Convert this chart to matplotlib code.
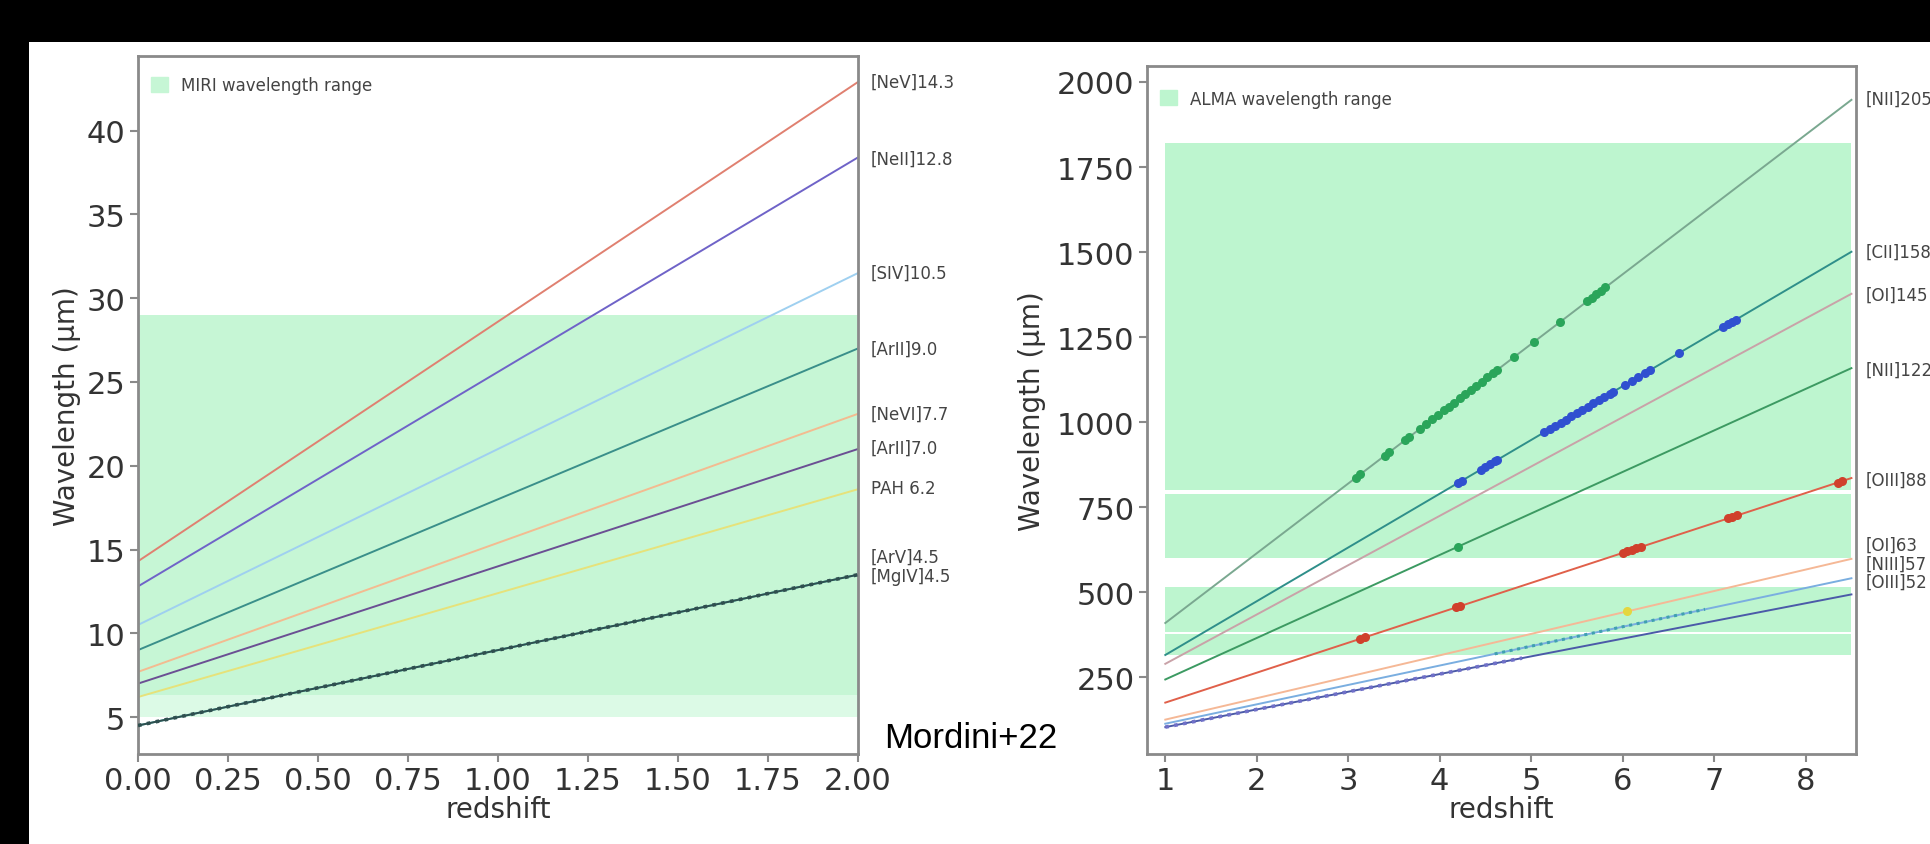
import matplotlib
matplotlib.use("Agg")
import matplotlib.pyplot as plt
from matplotlib.patches import Patch, Rectangle

# MIRI panel: rest wavelengths (um), labels, colours
miri_names = ["[NeV]14.3", "[NeII]12.8", "[SIV]10.5", "[ArII]9.0", "[NeVI]7.7",
              "[ArII]7.0", "PAH 6.2", "[ArV]4.5", "[MgIV]4.5"]
miri_rest = [14.3, 12.8, 10.5, 9.0, 7.7, 7.0, 6.2, 4.5, 4.5]
miri_colors = ["#e08070", "#6f63c8", "#9fd0f0", "#3a8f8a", "#f3bb90",
               "#6b4f93", "#e6e27a", "#45b8b0", "#2f4f4f"]
miri_label_y = [42.9, 38.3, 31.5, 27.0, 23.1, 21.1, 18.7, 14.6, 13.4]
miri_z = [0.0, 2.0]
miri_bands = [(5.0, 6.3, "#dcfae6"), (6.3, 29.0, "#c6f6d5")]

# ALMA panel
alma_names = ["[NII]205", "[CII]158", "[OI]145", "[NII]122", "[OIII]88",
              "[OI]63", "[NIII]57", "[OIII]52"]
alma_rest = [205, 158, 145, 122, 88, 63, 57, 52]
alma_colors = ["#7aa890", "#2f8f8a", "#c9a2a8", "#3c9a62", "#e0604a",
               "#f5b896", "#7aaee0", "#4b5aa8"]
alma_label_y = [1950, 1500, 1375, 1155, 830, 640, 585, 530]
alma_z = [1.0, 8.5]
alma_bands = [(1420, 1820), (1090, 1420), (800, 1090), (600, 788), (385, 515), (315, 377)]

# detections along the lines (redshifts)
green_z = [3.08, 3.13, 3.40, 3.45, 3.62, 3.66, 3.78, 3.85, 3.92, 3.98, 4.05, 4.10,
           4.16, 4.22, 4.28, 4.34, 4.40, 4.46, 4.52, 4.58, 4.63, 4.81, 5.03, 5.31,
           5.61, 5.66, 5.71, 5.76, 5.81]
blue_z = [4.20, 4.24, 4.45, 4.50, 4.55, 4.60, 4.63, 5.14, 5.20, 5.26, 5.32, 5.38,
          5.44, 5.50, 5.56, 5.62, 5.68, 5.74, 5.80, 5.86, 5.89, 6.03, 6.10, 6.17,
          6.24, 6.30, 6.61, 7.10, 7.15, 7.20, 7.24]
red_z = [3.13, 3.18, 4.18, 4.22, 6.00, 6.05, 6.10, 6.15, 6.20, 7.15, 7.20, 7.25, 8.35, 8.40]
nii122_z = [4.20]
oi63_z = [6.05]

W, H = 1931, 845
fig = plt.figure(figsize=(W / 100, H / 100), dpi=100, facecolor="black")
fig.add_artist(Rectangle((29 / W, 0), 1, 1 - 43 / H, transform=fig.transFigure,
                         facecolor="white", edgecolor="none", zorder=-5))

ax1 = fig.add_axes([138 / W, 1 - 755 / H, (858 - 138) / W, (755 - 57) / H])
ax2 = fig.add_axes([1147 / W, 1 - 755 / H, (1856 - 1147) / W, (755 - 67) / H])

spine_c = "#8a8a8a"
txt_c = "#333333"
for ax in (ax1, ax2):
    for s in ax.spines.values():
        s.set_color(spine_c)
        s.set_linewidth(2)
    ax.tick_params(direction="out", length=6, width=1.5, color=spine_c,
                   labelcolor=txt_c, labelsize=22, pad=3)
    ax.set_xlabel("redshift", fontsize=20, color=txt_c, labelpad=0)
ax1.set_ylabel("Wavelength (µm)", fontsize=20, color=txt_c, labelpad=4)
ax2.set_ylabel("Wavelength (µm)", fontsize=20, color=txt_c, labelpad=8)

# left panel
for lo, hi, c in miri_bands:
    ax1.fill_between(miri_z, lo, hi, color=c, lw=0, zorder=0)
for lam0, c in zip(miri_rest, miri_colors):
    ax1.plot(miri_z, [lam0 * (1 + z) for z in miri_z], color=c, lw=1.4, zorder=2)
ax1.plot(miri_z, [4.5 * (1 + z) for z in miri_z], color="#2f4f4f", lw=2.6,
         ls=(0, (1, 1.5)), zorder=3)
for name, y in zip(miri_names, miri_label_y):
    ax1.text(2.035, y, name, fontsize=12, color="#444444", va="center", clip_on=False)
ax1.set_xlim(0, 2)
ax1.set_ylim(2.8, 44.45)
ax1.set_xticks([0, 0.25, 0.5, 0.75, 1.0, 1.25, 1.5, 1.75, 2.0])
ax1.set_xticklabels(["0.00", "0.25", "0.50", "0.75", "1.00", "1.25", "1.50", "1.75", "2.00"])
ax1.set_yticks([5, 10, 15, 20, 25, 30, 35, 40])
ax1.legend(handles=[Patch(color="#c6f6d5", label="MIRI wavelength range")],
           loc="upper left", bbox_to_anchor=(0.0, 0.99), frameon=False, fontsize=12,
           handlelength=1.0, handleheight=1.0, borderaxespad=0.4, labelcolor="#444444")

# right panel
band2 = "#bdf5cf"
for lo, hi in alma_bands:
    ax2.fill_between(alma_z, lo, hi, color=band2, lw=0, zorder=0)
for lam0, c in zip(alma_rest, alma_colors):
    ax2.plot(alma_z, [lam0 * (1 + z) for z in alma_z], color=c, lw=1.4, zorder=2)
ax2.plot([1.0, 4.9], [52 * 2.0, 52 * 5.9], color="#7070c8", lw=2.6, ls=(0, (1, 1.5)), zorder=3)
ax2.plot([4.6, 6.9], [57 * 5.6, 57 * 7.9], color="#40a0b0", lw=2.2, ls=(0, (1, 1.5)), zorder=3)

marker_sets = [(205, green_z, "#2aa55a"), (158, blue_z, "#3050d0"),
               (88, red_z, "#d0402c"), (122, nii122_z, "#2aa55a"), (63, oi63_z, "#e4d640")]
for lam0, zs, c in marker_sets:
    ax2.plot(zs, [lam0 * (1 + z) for z in zs], "o", ms=6.5, color=c, mew=0, zorder=4)
for name, y in zip(alma_names, alma_label_y):
    ax2.text(8.65, y, name, fontsize=12, color="#444444", va="center", clip_on=False)
ax2.set_xlim(0.8, 8.55)
ax2.set_ylim(25, 2047)
ax2.set_xticks([1, 2, 3, 4, 5, 6, 7, 8])
ax2.set_yticks([250, 500, 750, 1000, 1250, 1500, 1750, 2000])
ax2.legend(handles=[Patch(color=band2, label="ALMA wavelength range")],
           loc="upper left", bbox_to_anchor=(0.0, 0.985), frameon=False, fontsize=12,
           handlelength=1.0, handleheight=1.0, borderaxespad=0.4, labelcolor="#444444")

fig.text(884 / W, 1 - 739 / H, "Mordini+22", family="Liberation Sans", fontsize=25,
         color="black", va="center", ha="left")

fig.savefig("out.png", dpi=100, facecolor=fig.get_facecolor())
